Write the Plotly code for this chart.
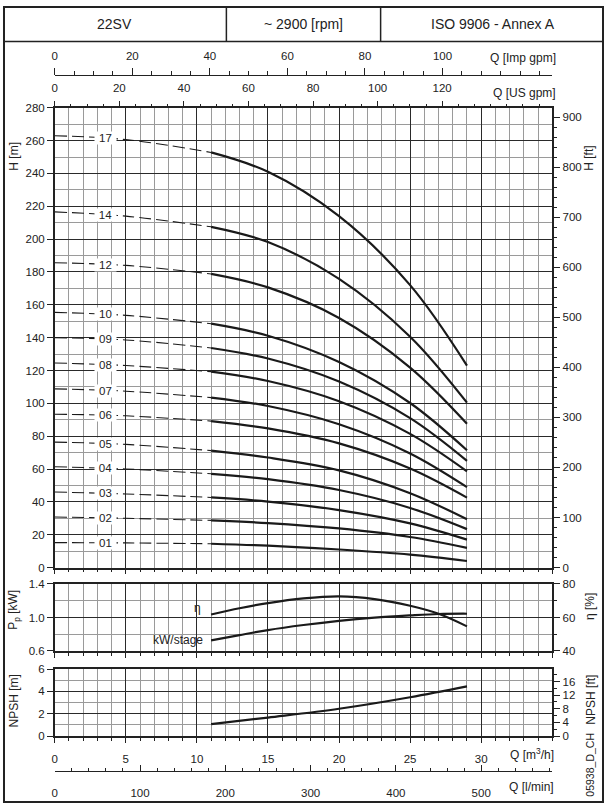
import numpy as np
import plotly.graph_objects as go

# ---------------- data ----------------
stages = ['17', '14', '12', '10', '09', '08', '07', '06', '05', '04', '03', '02', '01']

Q_dash = [0, 5, 11]
H_dash = {
    '17': [263.0, 260.6, 252.8],
    '14': [216.6, 214.0, 207.5],
    '12': [185.6, 184.0, 178.8],
    '10': [155.4, 153.6, 148.5],
    '09': [140.0, 138.6, 133.7],
    '08': [124.6, 123.0, 119.3],
    '07': [108.8, 107.4, 103.5],
    '06': [93.4, 92.4, 89.2],
    '05': [76.4, 75.0, 71.2],
    '04': [61.4, 60.0, 57.1],
    '03': [46.0, 44.8, 42.7],
    '02': [30.8, 30.0, 28.7],
    '01': [15.2, 15.0, 14.5],
}

Q_solid = [11, 15, 20, 25, 29]
H_solid = {
    '17': [252.8, 241.0, 214.0, 172.0, 123.0],
    '14': [207.5, 198.2, 175.8, 140.6, 100.4],
    '12': [178.8, 170.6, 152.0, 121.8, 87.6],
    '10': [148.5, 141.2, 125.2, 100.2, 71.4],
    '09': [133.7, 127.3, 113.3, 91.0, 65.0],
    '08': [119.3, 113.6, 101.3, 81.4, 58.6],
    '07': [103.5, 98.4, 87.3, 69.5, 49.0],
    '06': [89.2, 84.7, 75.6, 60.3, 42.6],
    '05': [71.2, 67.0, 59.2, 45.3, 29.4],
    '04': [57.1, 53.8, 47.2, 36.3, 23.4],
    '03': [42.7, 40.2, 35.0, 26.9, 17.0],
    '02': [28.7, 27.1, 23.8, 18.6, 12.0],
    '01': [14.5, 13.3, 11.0, 7.9, 4.0],
}

Q_pw = [11, 13, 15, 17.5, 20, 22.5, 25, 27, 29]
kw_stage = [0.727, 0.79, 0.85, 0.91, 0.96, 0.998, 1.025, 1.042, 1.045]
eta = [61.8, 65.5, 68.6, 71.4, 72.6, 71.0, 67.0, 62.2, 54.7]

Q_npsh = [11, 15, 20, 25, 29]
npsh = [1.06, 1.65, 2.44, 3.47, 4.44]

q_ticks = [0, 5, 10, 15, 20, 25, 30]
usgpm_ticks = [0, 20, 40, 60, 80, 100, 120]
impgpm_ticks = [0, 20, 40, 60, 80, 100]
lmin_ticks = [0, 100, 200, 300, 400, 500]

# unit conversions
M3H_TO_USGPM = 4.402868
M3H_TO_IMPGPM = 3.666154
M3H_TO_LMIN = 16.6667
M_TO_FT = 3.28084

# ---------------- geometry ----------------
W, H = 604, 809
FONT = "Liberation Sans, Arial, Helvetica, sans-serif"
AX = '#222222'
MAJ = '#2a2a2a'
MIN = '#9a9a9a'
CURVE = '#1a1a1a'


def px(x):
    return x / W


def py(y):
    return 1 - y / H


XD = [px(52), px(552)]
QMAX = 35

fig = go.Figure()

# head curves
for s in stages:
    fig.add_trace(go.Scatter(x=Q_dash, y=H_dash[s], mode='lines', xaxis='x', yaxis='y',
                             line=dict(color=CURVE, width=1.1, dash='12px,5px', shape='spline'),
                             hoverinfo='skip'))
    fig.add_trace(go.Scatter(x=Q_solid, y=H_solid[s], mode='lines', xaxis='x', yaxis='y',
                             line=dict(color=CURVE, width=2.2, shape='spline'),
                             hoverinfo='skip'))

# power / efficiency
fig.add_trace(go.Scatter(x=Q_pw, y=kw_stage, mode='lines', xaxis='x2', yaxis='y3',
                         line=dict(color=CURVE, width=2.2, shape='spline'), hoverinfo='skip'))
fig.add_trace(go.Scatter(x=Q_pw, y=eta, mode='lines', xaxis='x2', yaxis='y4',
                         line=dict(color=CURVE, width=2.2, shape='spline'), hoverinfo='skip'))
# NPSH
fig.add_trace(go.Scatter(x=Q_npsh, y=npsh, mode='lines', xaxis='x3', yaxis='y5',
                         line=dict(color=CURVE, width=2.2, shape='spline'), hoverinfo='skip'))

# dummy traces so that every secondary axis is drawn
for xa, ya in [('x', 'y2'), ('x4', 'y'), ('x5', 'y'), ('x2', 'y4'), ('x3', 'y6'), ('x6', 'y5')]:
    fig.add_trace(go.Scatter(x=[None], y=[None], xaxis=xa, yaxis=ya, mode='lines',
                             hoverinfo='skip'))

tickfont = dict(family=FONT, size=11.5, color='#222')


def qaxis(anchor, labels=False):
    d = dict(domain=XD, range=[0, QMAX], anchor=anchor, tick0=0, dtick=5,
             showgrid=True, gridcolor=MAJ, gridwidth=1.3,
             minor=dict(tick0=0, dtick=1, showgrid=True, gridcolor=MIN, gridwidth=1,
                        ticks='outside', ticklen=3, tickcolor=AX),
             ticks='outside', ticklen=5, tickcolor=AX, tickwidth=1,
             showline=True, linecolor=AX, linewidth=1.5, mirror=True,
             showticklabels=labels, zeroline=False, fixedrange=True, tickfont=tickfont)
    return d


xaxis3 = qaxis('y5', labels=True)
xaxis3.update(tickmode='array', tickvals=q_ticks, ticktext=[str(v) for v in q_ticks],
              ticklabelstandoff=6)

fig.update_layout(
    width=W, height=H, margin=dict(l=0, r=0, t=0, b=0),
    paper_bgcolor='white', plot_bgcolor='white', showlegend=False,
    font=dict(family=FONT, size=11.5, color='#222'),
    xaxis=qaxis('y'),
    xaxis2=qaxis('y3'),
    xaxis3=xaxis3,
    xaxis4=dict(overlaying='x', anchor='y', side='top', range=[0, QMAX * M3H_TO_USGPM],
                tickmode='array', tickvals=usgpm_ticks,
                ticktext=[str(v) for v in usgpm_ticks],
                ticks='outside', ticklen=6, tickcolor=AX,
                minor=dict(tick0=0, dtick=5, ticks='outside', ticklen=3, tickcolor=AX, showgrid=False),
                showgrid=False, showline=False, zeroline=False, tickfont=tickfont, fixedrange=True,
                ticklabelstandoff=4),
    xaxis5=dict(overlaying='x', anchor='free', position=py(70), side='top',
                range=[0, QMAX * M3H_TO_IMPGPM],
                tickmode='array', tickvals=impgpm_ticks,
                ticktext=[str(v) for v in impgpm_ticks],
                ticks='outside', ticklen=7, tickcolor=AX,
                minor=dict(tick0=0, dtick=5, ticks='outside', ticklen=4, tickcolor=AX, showgrid=False),
                showgrid=False, showline=True, linecolor=AX, linewidth=1.2, zeroline=False,
                tickfont=tickfont, fixedrange=True, ticklabelstandoff=3),
    xaxis6=dict(overlaying='x3', anchor='free', position=py(777), side='bottom',
                range=[0, QMAX * M3H_TO_LMIN],
                tickmode='array', tickvals=lmin_ticks, ticktext=[str(v) for v in lmin_ticks],
                ticks='inside', ticklen=6, tickcolor=AX,
                minor=dict(tick0=0, dtick=20, ticks='inside', ticklen=3, tickcolor=AX, showgrid=False),
                showgrid=False, showline=True, linecolor=AX, linewidth=1.2, zeroline=False,
                ticklabelstandoff=11, tickfont=tickfont, fixedrange=True),
    yaxis=dict(domain=[py(570), py(103.3)], range=[0, 280], anchor='x', tick0=0, dtick=20,
               showgrid=True, gridcolor=MAJ, gridwidth=1.3,
               minor=dict(tick0=0, dtick=10, showgrid=True, gridcolor=MIN, gridwidth=1),
               ticks='outside', ticklen=6, tickcolor=AX, showline=True, linecolor=AX,
               linewidth=1.5, mirror=True, zeroline=False, tickfont=tickfont, fixedrange=True),
    yaxis2=dict(overlaying='y', anchor='x', side='right', range=[0, 280 * M_TO_FT],
                tick0=0, dtick=100, ticks='outside', ticklen=7, tickcolor=AX,
                minor=dict(tick0=0, dtick=20, ticks='outside', ticklen=4, tickcolor=AX, showgrid=False),
                showgrid=False, zeroline=False, showline=False, tickfont=tickfont, fixedrange=True),
    yaxis3=dict(domain=[py(654.7), py(586.7)], range=[0.6, 1.4], anchor='x2',
                tickmode='array', tickvals=[0.6, 1.0, 1.4], ticktext=['0.6', '1.0', '1.4'],
                showgrid=True, gridcolor=MAJ, gridwidth=1.3,
                minor=dict(tickmode='array', tickvals=[0.8, 1.2], showgrid=True, gridcolor=MIN, gridwidth=1),
                ticks='outside', ticklen=6, tickcolor=AX, showline=True, linecolor=AX,
                linewidth=1.5, mirror=True, zeroline=False, tickfont=tickfont, fixedrange=True),
    yaxis4=dict(overlaying='y3', anchor='x2', side='right', range=[40, 80],
                tick0=40, dtick=20, ticks='outside', ticklen=7, tickcolor=AX,
                minor=dict(tick0=40, dtick=10, ticks='outside', ticklen=4, tickcolor=AX, showgrid=False),
                showgrid=False, zeroline=False, showline=False, tickfont=tickfont, fixedrange=True),
    yaxis5=dict(domain=[py(741), py(673)], range=[0, 6], anchor='x3', tick0=0, dtick=2,
                showgrid=True, gridcolor=MAJ, gridwidth=1.3,
                minor=dict(tick0=0, dtick=1, showgrid=True, gridcolor=MIN, gridwidth=1),
                ticks='outside', ticklen=6, tickcolor=AX, showline=True, linecolor=AX,
                linewidth=1.5, mirror=True, zeroline=False, tickfont=tickfont, fixedrange=True),
    yaxis6=dict(overlaying='y5', anchor='x3', side='right', range=[0, 6 * M_TO_FT],
                tick0=0, dtick=4, ticks='outside', ticklen=7, tickcolor=AX,
                minor=dict(tick0=0, dtick=2, ticks='outside', ticklen=4, tickcolor=AX, showgrid=False),
                showgrid=False, zeroline=False, showline=False, tickfont=tickfont, fixedrange=True),
)

ann = []
# stage labels on the dashed part
for s in stages:
    yv = float(np.interp(3.55, Q_dash, H_dash[s]))
    ann.append(dict(x=3.55, y=yv, xref='x', yref='y', text=s, showarrow=False,
                    font=dict(family=FONT, size=11.5, color='#222'),
                    bgcolor='white', width=21, height=12, borderpad=0))

# curve labels in the power panel
ann.append(dict(x=10.4, y=65.7, xref='x2', yref='y4', text='η', showarrow=False,
                xanchor='right', font=dict(family=FONT, size=12, color='#222')))
ann.append(dict(x=10.55, y=0.734, xref='x2', yref='y3', text='kW/stage', showarrow=False,
                xanchor='right', font=dict(family=FONT, size=12, color='#222')))


def ptxt(x, y, text, size=12, angle=0, xanchor='center'):
    ann.append(dict(x=px(x), y=py(y), xref='paper', yref='paper', text=text, showarrow=False,
                    textangle=angle, xanchor=xanchor, yanchor='middle',
                    font=dict(family=FONT, size=size, color='#222')))


# header
ptxt(112, 18.5, '22SV', 14)
ptxt(302, 18.5, '~ 2900 [rpm]', 14)
ptxt(492, 18.5, 'ISO 9906 - Annex A', 14)
# axis names
ptxt(558, 53, 'Q [Imp gpm]', 12, xanchor='right')
ptxt(558, 88, 'Q [US gpm]', 12, xanchor='right')
ptxt(556, 759, 'Q [m<sup>3</sup>/h]', 12, xanchor='right')
ptxt(556, 793, 'Q [l/min]', 12, xanchor='right')
ptxt(11, 152, 'H [m]', 12, -90)
ptxt(589, 155, 'H [ft]', 12, -90)
ptxt(11, 613, 'P<sub>p</sub> [kW]', 12, -90)
ptxt(590, 610, 'η [%]', 12, -90)
ptxt(11, 705, 'NPSH [m]', 12, -90)
ptxt(590, 704, 'NPSH [ft]', 12, -90)
ptxt(590, 770, '05938_D_CH', 10.5, -90)

fig.update_layout(annotations=ann)

# frame and header lines
shapes = [
    dict(type='rect', xref='paper', yref='paper', x0=px(1), x1=px(603), y0=py(808), y1=py(1),
         line=dict(color=AX, width=2)),
    dict(type='line', xref='paper', yref='paper', x0=0, x1=1, y0=py(36), y1=py(36),
         line=dict(color=AX, width=1.5)),
    dict(type='line', xref='paper', yref='paper', x0=px(224.5), x1=px(224.5), y0=py(0), y1=py(36),
         line=dict(color=AX, width=1.5)),
    dict(type='line', xref='paper', yref='paper', x0=px(379.5), x1=px(379.5), y0=py(0), y1=py(36),
         line=dict(color=AX, width=1.5)),
]
fig.update_layout(shapes=shapes)

fig.write_html("out.html")
